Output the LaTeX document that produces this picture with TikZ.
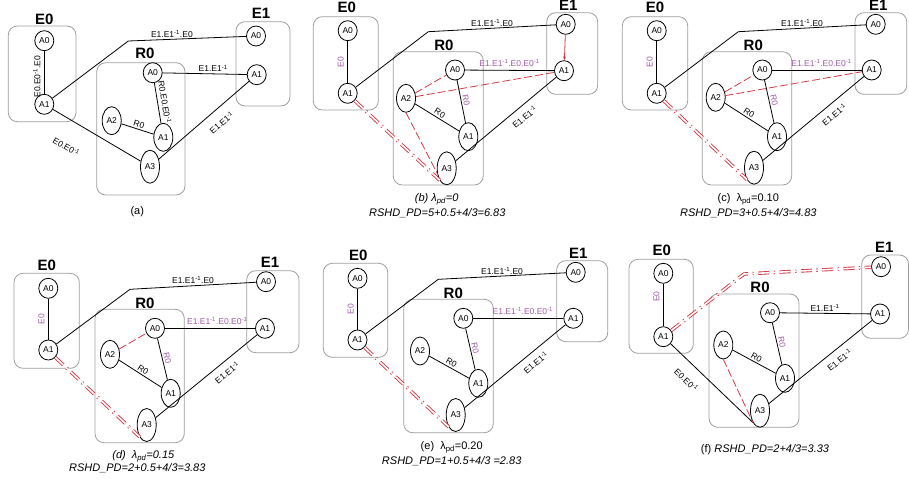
\documentclass[tikz,border=0pt]{standalone}
\usepackage{fontspec}
\setmainfont{Liberation Sans}
\usepackage{tikz}
\usetikzlibrary{shapes.geometric, arrows.meta, positioning, calc}
\definecolor{pd-red}{HTML}{D43A45}
\definecolor{pd-purple}{HTML}{A05AAA}
\definecolor{box-gray}{HTML}{9E9E9E}
\newcommand{\einv}{\textsuperscript{-1}}

\tikzset{
  agent/.style={ellipse, draw, fill=white, line width=0.8pt, inner sep=0pt,
    minimum width=19pt, minimum height=20pt, font=\fontsize{8.5}{10}\selectfont},
  tall/.style={minimum height=28pt},
  taller/.style={minimum height=33pt},
  grp/.style={draw=box-gray, line width=0.8pt, rounded corners=9pt},
  grptitle/.style={font=\fontsize{15}{16}\selectfont\bfseries, inner sep=0pt},
  link/.style={line width=0.8pt},
  lbl/.style={font=\fontsize{8.5}{10}\selectfont, inner sep=1.5pt},
  plbl/.style={lbl, text=pd-purple},
  cand/.style={draw=pd-red, line width=0.8pt, dash pattern=on 8pt off 3pt},
  pdpath/.style={draw=pd-red, line width=0.9pt, double=white, double distance=1.6pt,
    dash pattern=on 11pt off 4.5pt on 1.3pt off 4.5pt},
  capt/.style={font=\fontsize{11}{12}\selectfont, inner sep=0pt}
}

\begin{document}
\begin{tikzpicture}[x=1pt, y=-1pt]
    \useasboundingbox (0,0) rectangle (909,482);

    % (a)
    \draw[grp] (8.3,26) rectangle (76,121.7);
    \draw[grp] (96.7,62.7) rectangle (185,195);
    \draw[grp] (236,21.7) rectangle (290,106);
    \node[grptitle] (aE0) at (44.3,19.3) {E0};
    \node[grptitle] (aR0) at (145,53.3) {R0};
    \node[grptitle] (aE1) at (261,13.3) {E1};
    \node[agent] (aE0A0) at (44.3,40.7) {A0};
    \node[agent] (aE0A1) at (44.3,104.3) {A1};
    \node[agent] (aR0A0) at (152.7,72.7) {A0};
    \node[agent, tall] (aR0A2) at (111.7,120.7) {A2};
    \node[agent, tall] (aR0A1) at (163.3,137.3) {A1};
    \node[agent, taller] (aR0A3) at (150,166.7) {A3};
    \node[agent] (aE1A0) at (256,36) {A0};
    \node[agent] (aE1A1) at (256.7,74.7) {A1};
    \coordinate (aC) at (128.3,41);
    \draw[link] (aE0A1) -- node[lbl, pos=0.4, sloped, above=2pt] {E0.E0\einv.E0} (aE0A0);
    \draw[link] (aE0A1) -- (aC) -- node[lbl, pos=0.37, above] {E1.E1\einv.E0} (aE1A0);
    \draw[link] (aR0A0) -- node[lbl, pos=0.6, above] {E1.E1\einv} (aE1A1);
    \draw[link] (aR0A0) -- node[lbl, sloped, above=2pt] {R0.E0.E0\einv} (aR0A1);
    \draw[link] (aR0A2) -- node[lbl, sloped, above] {R0} (aR0A1);
    \draw[link] (aE0A1) -- node[lbl, pos=0.3, sloped, below=20pt] {E0.E0\einv} (aR0A3);
    \draw[link] (aR0A3) -- node[lbl, pos=0.6, sloped, below=8pt] {E1.E1\einv} (aE1A1);
    \node[capt] (aCap) at (137.3,211.7) {(a)};

    % (b)
    \draw[grp] (313.3,16.7) rectangle (378.3,110);
    \draw[grp] (393.3,51.7) rectangle (483.3,185);
    \draw[grp] (546.7,12.7) rectangle (597.7,94.3);
    \node[grptitle] (bE0) at (346.7,7.3) {E0};
    \node[grptitle] (bR0) at (444,45) {R0};
    \node[grptitle] (bE1) at (568.3,5) {E1};
    \node[agent] (bE0A0) at (347.7,30.7) {A0};
    \node[agent] (bE0A1) at (347.7,93.3) {A1};
    \node[agent] (bR0A0) at (455,70) {A0};
    \node[agent, tall] (bR0A2) at (406,98.3) {A2};
    \node[agent, tall] (bR0A1) at (468.3,136.7) {A1};
    \node[agent, taller] (bR0A3) at (446.7,168.3) {A3};
    \node[agent] (bE1A0) at (565.7,24.3) {A0};
    \node[agent] (bE1A1) at (564,70.7) {A1};
    \coordinate (bC) at (428.3,31.7);
    \draw[link] (bE0A1) -- node[plbl, sloped, above=2pt] {E0} (bE0A0);
    \draw[link] (bE0A1) -- (bC) -- node[lbl, above] {E1.E1\einv.E0} (bE1A0);
    \draw[link] (bR0A0) -- node[plbl, above=2pt] {E1.E1\einv.E0.E0\einv} (bE1A1);
    \draw[link] (bR0A0) -- node[plbl, sloped, above] {R0} (bR0A1);
    \draw[link] (bR0A2) -- node[lbl, sloped, above] {R0} (bR0A1);
    \draw[link] (bR0A3) -- node[lbl, pos=0.62, sloped, below=5pt] {E1.E1\einv} (bE1A1);
    \draw[cand] (bR0A2) -- (bR0A0);
    \draw[cand] (bR0A2) -- (bE1A1);
    \draw[cand] (bR0A2.south) -- (bR0A3.210);
    \draw[pdpath] (bE0A1.south east) -- (bR0A3.south west);
    \draw[pd-red, line width=0.8pt, -{Stealth[length=4pt]}] (bE1A0) -- (bE1A1);
    \node[capt] (bCap) at (436.7,199.3) {\itshape (b) λ\textsubscript{pd}=0};
    \node[capt] (bPd) at (437.3,212.7) {\itshape RSHD\_PD=5+0.5+4/3=6.83};

    % (c)
    \draw[grp] (622.3,16.7) rectangle (687.7,110);
    \draw[grp] (702.3,51.7) rectangle (791.7,185);
    \draw[grp] (855,12.7) rectangle (906.7,94.3);
    \node[grptitle] (cE0) at (655,7.3) {E0};
    \node[grptitle] (cR0) at (753.3,45) {R0};
    \node[grptitle] (cE1) at (878.3,5) {E1};
    \node[agent] (cE0A0) at (656.7,30.7) {A0};
    \node[agent] (cE0A1) at (656.7,93.3) {A1};
    \node[agent] (cR0A0) at (762.3,70) {A0};
    \node[agent, tall] (cR0A2) at (715.7,97.3) {A2};
    \node[agent, tall] (cR0A1) at (777,136.7) {A1};
    \node[agent, taller] (cR0A3) at (754,167.7) {A3};
    \node[agent] (cE1A0) at (875.7,24.3) {A0};
    \node[agent] (cE1A1) at (871.7,70) {A1};
    \coordinate (cC) at (738.3,31.7);
    \draw[link] (cE0A1) -- node[plbl, sloped, above=2pt] {E0} (cE0A0);
    \draw[link] (cE0A1) -- (cC) -- node[lbl, above] {E1.E1\einv.E0} (cE1A0);
    \draw[link] (cR0A0) -- node[plbl, pos=0.55, above=2pt] {E1.E1\einv.E0.E0\einv} (cE1A1);
    \draw[link] (cR0A0) -- node[plbl, sloped, above] {R0} (cR0A1);
    \draw[link] (cR0A2) -- node[lbl, sloped, above] {R0} (cR0A1);
    \draw[link] (cR0A3) -- node[lbl, pos=0.64, sloped, below=5pt] {E1.E1\einv} (cE1A1);
    \draw[cand] (cR0A2) -- (cR0A0);
    \draw[cand] (cR0A2) -- (cE1A1);
    \draw[pdpath] (cE0A1.south east) -- (cR0A3.south west);
    \node[capt] (cCap) at (748.3,199.3) {(c)\ \ λ\textsubscript{pd}=0.10};
    \node[capt] (cPd) at (748.3,212.7) {\itshape RSHD\_PD=3+0.5+4/3=4.83};

    % (d)
    \draw[grp] (14,273.3) rectangle (79.3,368.3);
    \draw[grp] (95,309.3) rectangle (184.3,442.7);
    \draw[grp] (246.7,270.7) rectangle (299,352.7);
    \node[grptitle] (dE0) at (46.7,265) {E0};
    \node[grptitle] (dR0) at (145,303.3) {R0};
    \node[grptitle] (dE1) at (270,262.7) {E1};
    \node[agent] (dE0A0) at (48.3,288.3) {A0};
    \node[agent] (dE0A1) at (48.3,350) {A1};
    \node[agent] (dR0A0) at (155,328.3) {A0};
    \node[agent, tall] (dR0A2) at (110,354.3) {A2};
    \node[agent, tall] (dR0A1) at (170.7,393.3) {A1};
    \node[agent, taller] (dR0A3) at (146.7,425) {A3};
    \node[agent] (dE1A0) at (266,281.7) {A0};
    \node[agent] (dE1A1) at (265,328.3) {A1};
    \coordinate (dC) at (130,289.3);
    \draw[link] (dE0A1) -- node[plbl, sloped, above=2pt] {E0} (dE0A0);
    \draw[link] (dE0A1) -- (dC) -- node[lbl, above] {E1.E1\einv.E0} (dE1A0);
    \draw[link] (dR0A0) -- node[plbl, pos=0.58, above=2pt] {E1.E1\einv.E0.E0\einv} (dE1A1);
    \draw[link] (dR0A0) -- node[plbl, sloped, above] {R0} (dR0A1);
    \draw[link] (dR0A2) -- node[lbl, sloped, above] {R0} (dR0A1);
    \draw[link] (dR0A3) -- node[lbl, pos=0.64, sloped, below=5pt] {E1.E1\einv} (dE1A1);
    \draw[cand] (dR0A2) -- (dR0A0);
    \draw[pdpath] (dE0A1.south east) -- (dR0A3.south west);
    \node[capt] (dCap) at (143.3,456) {\itshape (d)\ \ λ\textsubscript{pd}=0.15};
    \node[capt] (dPd) at (137.3,468.3) {\itshape RSHD\_PD=2+0.5+4/3=3.83};

    % (e)
    \draw[grp] (323.3,263.3) rectangle (387.7,357.3);
    \draw[grp] (403.7,299.3) rectangle (493.3,432.7);
    \draw[grp] (556.7,260.7) rectangle (607.7,341.7);
    \node[grptitle] (eE0) at (358.3,255) {E0};
    \node[grptitle] (eR0) at (453.3,293.3) {R0};
    \node[grptitle] (eE1) at (578.3,253.3) {E1};
    \node[agent] (eE0A0) at (357.5,278.3) {A0};
    \node[agent] (eE0A1) at (357.5,340) {A1};
    \node[agent] (eR0A0) at (463.3,318.3) {A0};
    \node[agent, tall] (eR0A2) at (420,351) {A2};
    \node[agent, tall] (eR0A1) at (478.3,383.3) {A1};
    \node[agent, taller] (eR0A3) at (455.7,415) {A3};
    \node[agent] (eE1A0) at (575.7,272.3) {A0};
    \node[agent] (eE1A1) at (573.3,318.3) {A1};
    \coordinate (eC) at (438.3,279.3);
    \draw[link] (eE0A1) -- node[plbl, sloped, above=2pt] {E0} (eE0A0);
    \draw[link] (eE0A1) -- (eC) -- node[lbl, above] {E1.E1\einv.E0} (eE1A0);
    \draw[link] (eR0A0) -- node[plbl, pos=0.55, above=2pt] {E1.E1\einv.E0.E0\einv} (eE1A1);
    \draw[link] (eR0A0) -- node[plbl, sloped, above] {R0} (eR0A1);
    \draw[link] (eR0A2) -- node[lbl, sloped, above] {R0} (eR0A1);
    \draw[link] (eR0A3) -- node[lbl, pos=0.64, sloped, below=5pt] {E1.E1\einv} (eE1A1);
    \draw[pdpath] (eE0A1.south east) -- (eR0A3.south west);
    \node[capt] (eCap) at (451.7,447.3) {(e)\ \ λ\textsubscript{pd}=0.20};
    \node[capt] (ePd) at (451.7,460.7) {\itshape RSHD\_PD=1+0.5+4/3 =2.83};

    % (f)
    \draw[grp] (629,259.3) rectangle (693.3,353.3);
    \draw[grp] (709,294) rectangle (799,427.3);
    \draw[grp] (861.7,255) rectangle (908.5,338.3);
    \node[grptitle] (fE0) at (661.7,250) {E0};
    \node[grptitle] (fR0) at (760,287.3) {R0};
    \node[grptitle] (fE1) at (884.3,247.3) {E1};
    \node[agent] (fE0A0) at (663.3,273.3) {A0};
    \node[agent] (fE0A1) at (663.3,336.7) {A1};
    \node[agent] (fR0A0) at (770,312.7) {A0};
    \node[agent, tall] (fR0A2) at (723.3,345) {A2};
    \node[agent, tall] (fR0A1) at (785,378.3) {A1};
    \node[agent, taller] (fR0A3) at (760,410.7) {A3};
    \node[agent] (fE1A0) at (881,266.7) {A0};
    \node[agent] (fE1A1) at (880,314) {A1};
    \coordinate (fC) at (744,274);
    \draw[link] (fE0A1) -- node[plbl, pos=0.7, sloped, above=2pt] {E0} (fE0A0);
    \draw[link] (fE0A1) -- node[lbl, pos=0.32, sloped, below=10pt] {E0.E0\einv} (fR0A3.south west);
    \draw[link] (fR0A0) -- node[lbl, above] {E1.E1\einv} (fE1A1);
    \draw[link] (fR0A0) -- node[plbl, sloped, above] {R0} (fR0A1);
    \draw[link] (fR0A2) -- node[lbl, sloped, above] {R0} (fR0A1);
    \draw[link] (fR0A3) -- node[lbl, pos=0.62, sloped, below=5pt] {E1.E1\einv} (fE1A1);
    \draw[cand] (fR0A2.south) -- (fR0A3.south west);
    \draw[pdpath] (fE0A1) -- (fC) -- (fE1A0);
    \node[capt] (fCap) at (765,449.3) {(f) \textit{RSHD\_PD=2+4/3=3.33}};
\end{tikzpicture}
\end{document}
